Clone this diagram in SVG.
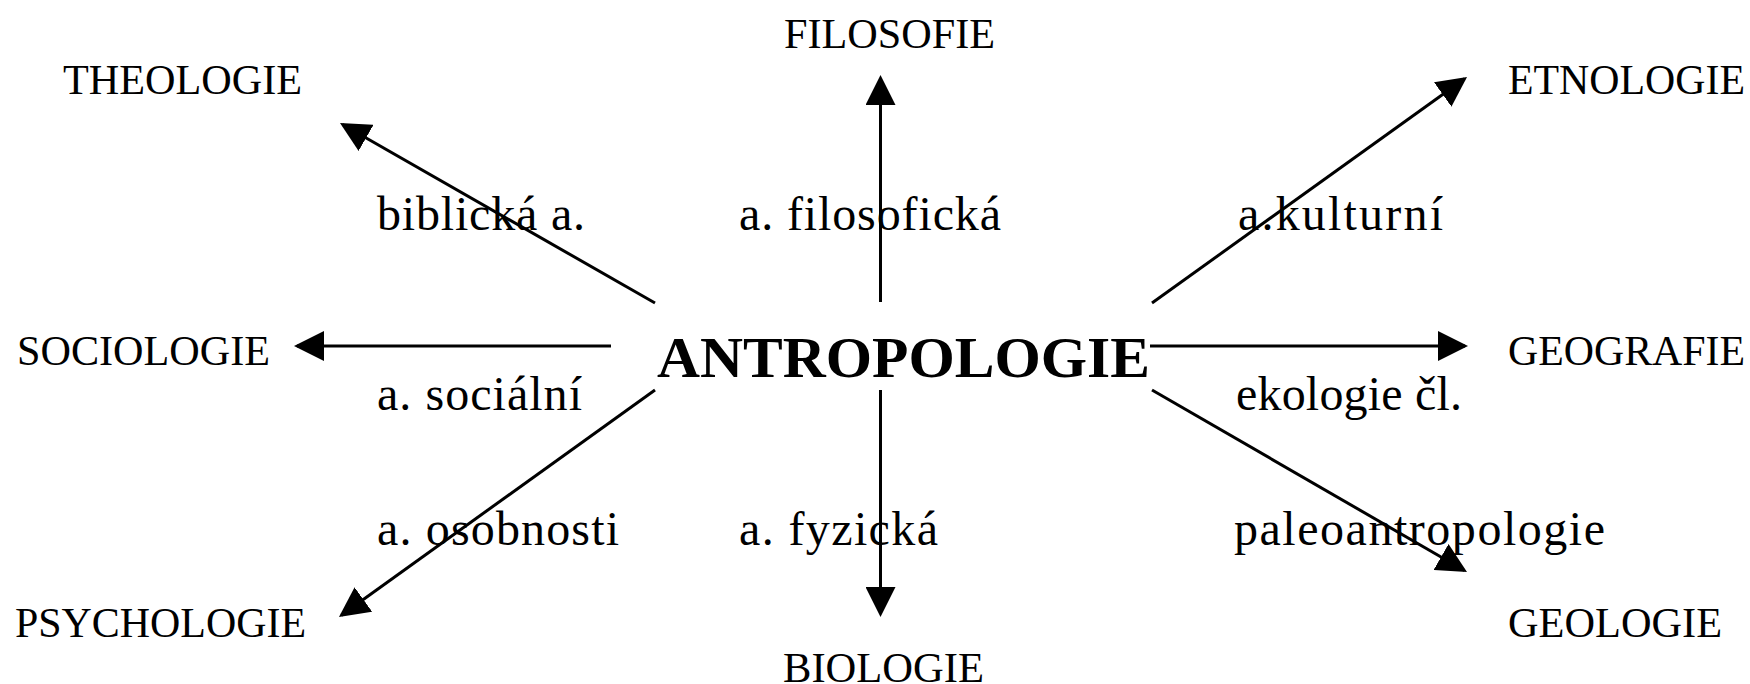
<svg xmlns="http://www.w3.org/2000/svg" width="1750" height="684" viewBox="0 0 1750 684">
<style>
.n{font-family:"Liberation Serif","Times New Roman",serif;font-size:42px;fill:#000}
.c{font-family:"Liberation Serif","Times New Roman",serif;font-size:58px;font-weight:bold;fill:#000}
.l{font-family:"Liberation Serif","Times New Roman",serif;font-size:48px;fill:#000}
.e{stroke:#000;stroke-width:3;fill:none}
</style>
<defs>
<marker id="ah" markerUnits="userSpaceOnUse" markerWidth="30" markerHeight="30" viewBox="0 0 30 30" refX="27" refY="15" orient="auto">
<path d="M0,0 L30,15 L0,30 z" fill="#000"/>
</marker>
</defs>
<rect width="1750" height="684" fill="#fff"/>
<g id="connectors">
<line class="e" x1="655" y1="303" x2="342.6" y2="124.5" marker-end="url(#ah)"/>
<line class="e" x1="880.5" y1="302" x2="880.5" y2="78" marker-end="url(#ah)"/>
<line class="e" x1="1152" y1="303" x2="1464.6" y2="78.7" marker-end="url(#ah)"/>
<line class="e" x1="611" y1="346" x2="297" y2="346" marker-end="url(#ah)"/>
<line class="e" x1="1150" y1="346" x2="1465" y2="346" marker-end="url(#ah)"/>
<line class="e" x1="655" y1="390" x2="341.4" y2="615.2" marker-end="url(#ah)"/>
<line class="e" x1="880.5" y1="390" x2="880.5" y2="614" marker-end="url(#ah)"/>
<line class="e" x1="1152" y1="390" x2="1464.4" y2="570.5" marker-end="url(#ah)"/>
</g>
<g id="labels">
<text class="l" x="377" y="230" textLength="208" lengthAdjust="spacing">biblická a.</text>
<text class="l" x="739" y="230" textLength="262" lengthAdjust="spacing">a. filosofická</text>
<text class="l" x="1238" y="230" textLength="205" lengthAdjust="spacing">a.kulturní</text>
<text class="l" x="377" y="410" textLength="205" lengthAdjust="spacing">a. sociální</text>
<text class="l" x="1236" y="410" textLength="226" lengthAdjust="spacing">ekologie čl.</text>
<text class="l" x="377" y="545" textLength="242" lengthAdjust="spacing">a. osobnosti</text>
<text class="l" x="739" y="545" textLength="199" lengthAdjust="spacing">a. fyzická</text>
<text class="l" x="1234" y="545" textLength="371" lengthAdjust="spacing">paleoantropologie</text>
</g>
<g id="antropologie"><text class="c" x="657" y="377" textLength="493" lengthAdjust="spacingAndGlyphs">ANTROPOLOGIE</text></g>
<g id="filosofie"><text class="n" x="784" y="48" textLength="211" lengthAdjust="spacingAndGlyphs">FILOSOFIE</text></g>
<g id="theologie"><text class="n" x="63" y="94" textLength="239" lengthAdjust="spacingAndGlyphs">THEOLOGIE</text></g>
<g id="etnologie"><text class="n" x="1508" y="94" textLength="237" lengthAdjust="spacingAndGlyphs">ETNOLOGIE</text></g>
<g id="sociologie"><text class="n" x="17" y="365" textLength="253" lengthAdjust="spacingAndGlyphs">SOCIOLOGIE</text></g>
<g id="geografie"><text class="n" x="1508" y="365" textLength="237" lengthAdjust="spacingAndGlyphs">GEOGRAFIE</text></g>
<g id="psychologie"><text class="n" x="15" y="637" textLength="291" lengthAdjust="spacingAndGlyphs">PSYCHOLOGIE</text></g>
<g id="biologie"><text class="n" x="783" y="682" textLength="201" lengthAdjust="spacingAndGlyphs">BIOLOGIE</text></g>
<g id="geologie"><text class="n" x="1508" y="637" textLength="214" lengthAdjust="spacingAndGlyphs">GEOLOGIE</text></g>
</svg>
